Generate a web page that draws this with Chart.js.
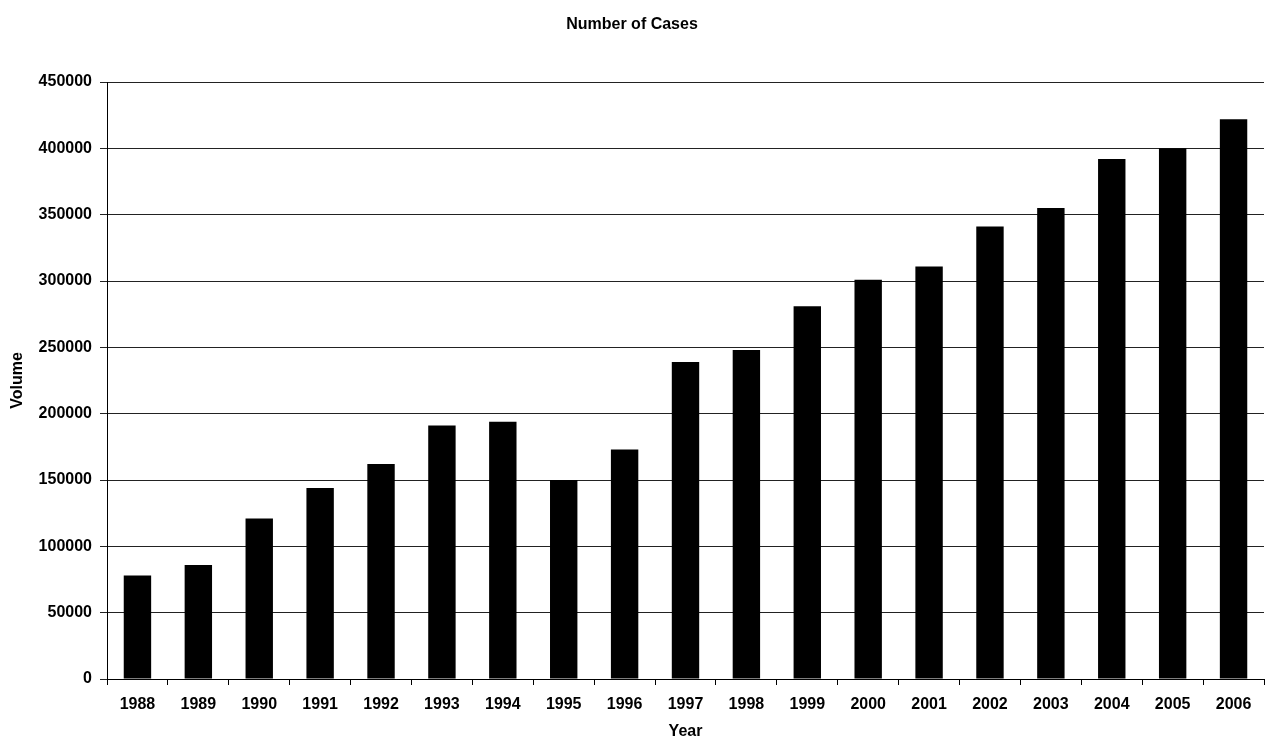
<!DOCTYPE html>
<html>
<head>
<meta charset="utf-8">
<title>Number of Cases</title>
<script src="https://cdn.jsdelivr.net/npm/chart.js"></script>
<style>
    html, body { margin: 0; padding: 0; background: #fff; }
    #wrap { width: 1269px; height: 740px; }
</style>
</head>
<body>
<div id="wrap"><canvas id="casesChart" width="1269" height="740"></canvas></div>
<script>
// --- data ---
const years = ['1988', '1989', '1990', '1991', '1992', '1993', '1994', '1995', '1996', '1997',
               '1998', '1999', '2000', '2001', '2002', '2003', '2004', '2005', '2006'];
const cases = [78000, 86000, 121000, 144000, 162000, 191000, 194000, 150000, 173000, 239000,
               248000, 281000, 301000, 311000, 341000, 355000, 392000, 400000, 422000];
const yMax = 450000;
const yStep = 50000;

const FONT = '"Liberation Sans", Arial, sans-serif';

const ctx = document.getElementById('casesChart').getContext('2d');
new Chart(ctx, {
    type: 'bar',
    data: {
        labels: years,
        datasets: [{
            label: 'Volume',
            data: cases,
            backgroundColor: '#000',
            borderWidth: 0,
            barPercentage: 0.45,
            categoryPercentage: 1
        }]
    },
    options: {
        responsive: false,
        animation: false,
        layout: { padding: { left: 0, right: 5, top: 0, bottom: 0 } },
        plugins: {
            legend: { display: false },
            tooltip: { enabled: false },
            title: {
                display: true,
                text: 'Number of Cases',
                color: '#000',
                font: { family: FONT, size: 16, weight: 'bold', lineHeight: 1 },
                padding: { top: 17, bottom: 49 }
            }
        },
        scales: {
            x: {
                afterFit: scale => { scale.height = 61; },
                grid: {
                    offset: true,
                    drawOnChartArea: false,
                    color: '#000',
                    tickLength: 6
                },
                border: { display: true, color: '#000', width: 1 },
                ticks: {
                    color: '#000',
                    padding: 10,
                    maxRotation: 0,
                    font: { family: FONT, size: 16, weight: 'bold' }
                },
                title: {
                    display: true,
                    text: 'Year',
                    color: '#000',
                    font: { family: FONT, size: 16, weight: 'bold', lineHeight: 1 },
                    padding: { top: 0, bottom: 0 }
                }
            },
            y: {
                min: 0,
                max: yMax,
                afterFit: scale => { scale.width = 107; },
                grid: {
                    color: '#222',
                    lineWidth: 1,
                    tickLength: 7
                },
                border: { display: true, color: '#000', width: 1 },
                ticks: {
                    stepSize: yStep,
                    color: '#000',
                    padding: 8,
                    font: { family: FONT, size: 16, weight: 'bold' },
                    callback: v => String(v)
                },
                title: {
                    display: true,
                    text: 'Volume',
                    color: '#000',
                    font: { family: FONT, size: 16, weight: 'bold', lineHeight: 1 },
                    padding: { top: 10, bottom: 0 }
                }
            }
        }
    }
});
</script>
</body>
</html>
